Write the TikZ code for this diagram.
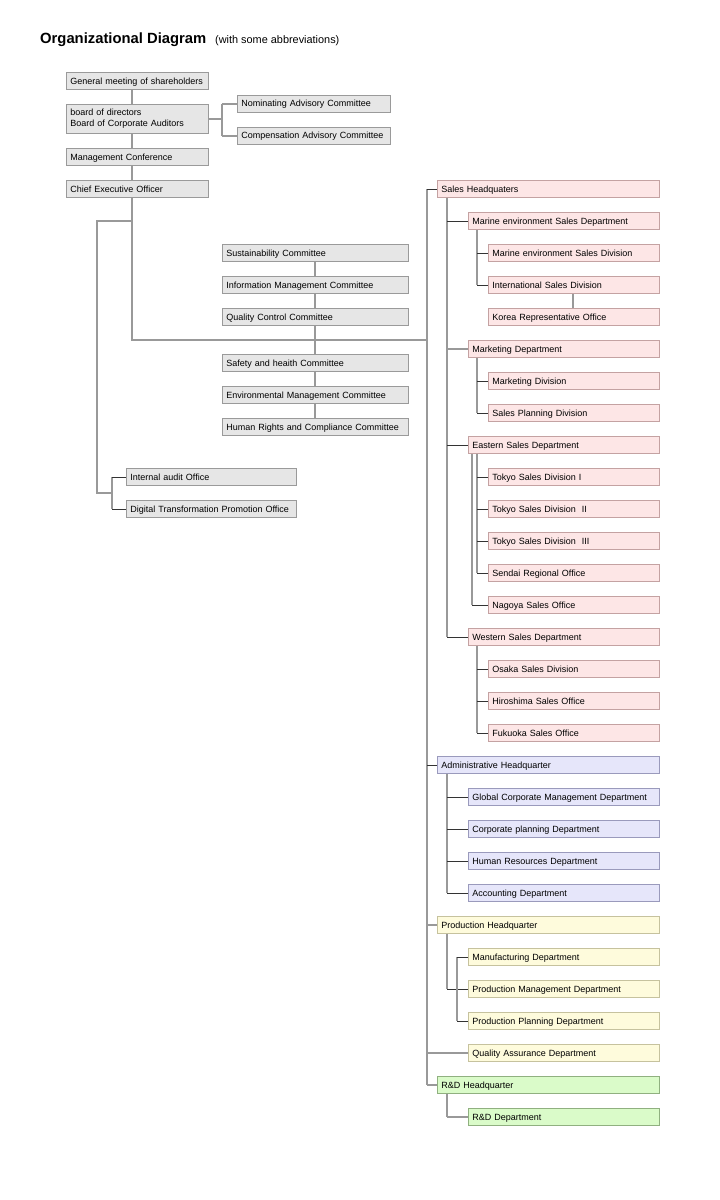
\documentclass[tikz,border=0pt]{standalone}
\usepackage{fontspec}
\setmainfont{Liberation Sans}
\usetikzlibrary{shadows}
\definecolor{gfill}{HTML}{E6E6E6}\definecolor{gdraw}{HTML}{9A9A9A}
\definecolor{pfill}{HTML}{FDE6E6}\definecolor{pdraw}{HTML}{C4A2A2}
\definecolor{lfill}{HTML}{E6E6FA}\definecolor{ldraw}{HTML}{9A9ABC}
\definecolor{yfill}{HTML}{FEFBDC}\definecolor{ydraw}{HTML}{C6C29E}
\definecolor{rfill}{HTML}{DAFBC9}\definecolor{rdraw}{HTML}{90B080}
\definecolor{lgray}{HTML}{999999}\definecolor{sdark}{HTML}{333333}
\begin{document}
\begin{tikzpicture}[x=1pt,y=-1pt,font=\fontsize{9}{11}\selectfont]
\tikzset{
  base0/.style={rectangle,anchor=west,inner xsep=4pt,inner ysep=0pt,minimum height=17pt,align=left,line width=0.8pt},
  base/.style={base0,text height=7pt,text depth=1pt},
  wd/.style={text width=#1pt-8pt},
  gsh/.style={fill=gfill,draw=gdraw,drop shadow={shadow xshift=0.8pt,shadow yshift=-0.8pt,fill=gdraw!80!black,opacity=0.6}},
  gbox/.style={base,gsh},
  pbox/.style={base,fill=pfill,draw=pdraw,drop shadow={shadow xshift=0.8pt,shadow yshift=-0.8pt,fill=pdraw!80!black,opacity=0.6}},
  lbox/.style={base,fill=lfill,draw=ldraw,drop shadow={shadow xshift=0.8pt,shadow yshift=-0.8pt,fill=ldraw!80!black,opacity=0.6}},
  ybox/.style={base,fill=yfill,draw=ydraw,drop shadow={shadow xshift=0.8pt,shadow yshift=-0.8pt,fill=ydraw!80!black,opacity=0.6}},
  rbox/.style={base,fill=rfill,draw=rdraw,drop shadow={shadow xshift=0.8pt,shadow yshift=-0.8pt,fill=rdraw!80!black,opacity=0.6}},
  gline/.style={draw=lgray,line width=2pt},
  sline/.style={draw=sdark,line width=0.9pt}
}
\useasboundingbox[fill=white] (0,0) rectangle (720,1200);
% title
\node[anchor=base west,inner sep=0pt,font=\bfseries\fontsize{14.8}{16}\selectfont] (title) at (40,43) {Organizational Diagram};
\node[anchor=base west,inner sep=0pt,font=\fontsize{10.9}{12}\selectfont] (sub) at (215,43) {(with some abbreviations)};
% x helpers
\coordinate (x97) at (97,0); \coordinate (x112) at (112,0); \coordinate (x132) at (132,0);
\coordinate (x222) at (222,0); \coordinate (x315) at (315,0); \coordinate (x427) at (427,0);
\coordinate (x447) at (447,0); \coordinate (x457) at (457,0); \coordinate (x472) at (472,0);
\coordinate (x477) at (477,0); \coordinate (x573) at (573,0);
\coordinate (yL) at (0,221); \coordinate (yD) at (0,493); \coordinate (yH) at (0,340);
% gray boxes
\node[gbox,wd=142] (gm) at (66,81) {General meeting of shareholders};
\node[base0,gsh,wd=142,minimum height=29pt] (bd) at (66,118.5) {board of directors\\Board of Corporate Auditors};
\node[gbox,wd=153] (nom) at (237,103.5) {Nominating Advisory Committee};
\node[gbox,wd=153] (comp) at (237,135.5) {Compensation Advisory Committee};
\node[gbox,wd=142] (mc) at (66,157) {Management Conference};
\node[gbox,wd=142] (ceo) at (66,189) {Chief Executive Officer};
\node[gbox,wd=186] (sus) at (222,253) {Sustainability Committee};
\node[gbox,wd=186] (info) at (222,285) {Information Management Committee};
\node[gbox,wd=186] (qc) at (222,317) {Quality Control Committee};
\node[gbox,wd=186] (saf) at (222,363) {Safety and heaith Committee};
\node[gbox,wd=186] (env) at (222,395) {Environmental Management Committee};
\node[gbox,wd=186] (hrc) at (222,427) {Human Rights and Compliance Committee};
\node[gbox,wd=170] (ia) at (126,477) {Internal audit Office};
\node[gbox,wd=170] (dx) at (126,509) {Digital Transformation Promotion Office};
% sales
\node[pbox,wd=222] (shq) at (437,189) {Sales Headquaters};
\node[pbox,wd=191] (mdept) at (468,221) {Marine environment Sales Department};
\node[pbox,wd=171] (mdiv) at (488,253) {Marine environment Sales Division};
\node[pbox,wd=171] (intl) at (488,285) {International Sales Division};
\node[pbox,wd=171] (korea) at (488,317) {Korea Representative Office};
\node[pbox,wd=191] (mkt) at (468,349) {Marketing Department};
\node[pbox,wd=171] (mktdiv) at (488,381) {Marketing Division};
\node[pbox,wd=171] (spd) at (488,413) {Sales Planning Division};
\node[pbox,wd=191] (east) at (468,445) {Eastern Sales Department};
\node[pbox,wd=171] (t1) at (488,477) {Tokyo Sales Division I};
\node[pbox,wd=171] (t2) at (488,509) {Tokyo Sales Division\ \ II};
\node[pbox,wd=171] (t3) at (488,541) {Tokyo Sales Division\ \ III};
\node[pbox,wd=171] (sendai) at (488,573) {Sendai Regional Office};
\node[pbox,wd=171] (nagoya) at (488,605) {Nagoya Sales Office};
\node[pbox,wd=191] (west) at (468,637) {Western Sales Department};
\node[pbox,wd=171] (osaka) at (488,669) {Osaka Sales Division};
\node[pbox,wd=171] (hiro) at (488,701) {Hiroshima Sales Office};
\node[pbox,wd=171] (fuku) at (488,733) {Fukuoka Sales Office};
% administrative
\node[lbox,wd=222] (ahq) at (437,765) {Administrative Headquarter};
\node[lbox,wd=191] (gcm) at (468,797) {Global Corporate Management Department};
\node[lbox,wd=191] (cp) at (468,829) {Corporate planning Department};
\node[lbox,wd=191] (hrd) at (468,861) {Human Resources Department};
\node[lbox,wd=191] (acc) at (468,893) {Accounting Department};
% production
\node[ybox,wd=222] (phq) at (437,925) {Production Headquarter};
\node[ybox,wd=191] (mfg) at (468,957) {Manufacturing Department};
\node[ybox,wd=191] (pmd) at (468,989) {Production Management Department};
\node[ybox,wd=191] (ppd) at (468,1021) {Production Planning Department};
\node[ybox,wd=191] (qa) at (468,1053) {Quality Assurance Department};
% R&D
\node[rbox,wd=222] (rhq) at (437,1085) {R\&D Headquarter};
\node[rbox,wd=191] (rdd) at (468,1117) {R\&D Department};
% ---- connectors: top-left
\draw[gline] (gm.south -| x132) -- (bd.north -| x132);
\draw[gline] (bd.south -| x132) -- (mc.north -| x132);
\draw[gline] (mc.south -| x132) -- (ceo.north -| x132);
\draw[gline] (bd.east) -- (bd.east -| x222);
\draw[gline] (nom.west -| x222) -- (comp.west -| x222);
\draw[gline] (nom.west -| x222) -- (nom.west);
\draw[gline] (comp.west -| x222) -- (comp.west);
\draw[gline] (ceo.south -| x132) -- (x132 |- yH) -- (x427 |- yH);
\draw[gline] (x132 |- yL) -- (x97 |- yL) -- (x97 |- yD) -- (x112 |- yD);
\draw[gline] (ia.west -| x112) -- (dx.west -| x112);
\draw[sline] (ia.west -| x112) -- (ia.west);
\draw[sline] (dx.west -| x112) -- (dx.west);
% committees
\draw[gline] (sus.south -| x315) -- (info.north -| x315);
\draw[gline] (info.south -| x315) -- (qc.north -| x315);
\draw[gline] (qc.south -| x315) -- (saf.north -| x315);
\draw[gline] (saf.south -| x315) -- (env.north -| x315);
\draw[gline] (env.south -| x315) -- (hrc.north -| x315);
% trunk
\draw[gline] (shq.west -| x427) -- (rhq.west -| x427);
\draw[sline] (shq.west -| x427) -- (shq.west);
\draw[sline] (ahq.west -| x427) -- (ahq.west);
\draw[gline] (phq.west -| x427) -- (phq.west);
\draw[gline] (qa.west -| x427) -- (qa.west);
\draw[gline] (rhq.west -| x427) -- (rhq.west);
% sales
\draw[gline] (shq.south -| x447) -- (west.west -| x447);
\draw[sline] (mdept.west -| x447) -- (mdept.west);
\draw[gline] (mkt.west -| x447) -- (mkt.west);
\draw[sline] (east.west -| x447) -- (east.west);
\draw[sline] (west.west -| x447) -- (west.west);
\draw[gline] (mdept.south -| x477) -- (intl.west -| x477);
\draw[sline] (mdiv.west -| x477) -- (mdiv.west);
\draw[sline] (intl.west -| x477) -- (intl.west);
\draw[gline] (intl.south -| x573) -- (korea.north -| x573);
\draw[gline] (mkt.south -| x477) -- (spd.west -| x477);
\draw[sline] (mktdiv.west -| x477) -- (mktdiv.west);
\draw[sline] (spd.west -| x477) -- (spd.west);
\draw[gline] (east.south -| x477) -- (sendai.west -| x477);
\draw[gline] (east.south -| x472) -- (nagoya.west -| x472);
\draw[sline] (t1.west -| x477) -- (t1.west);
\draw[sline] (t2.west -| x477) -- (t2.west);
\draw[sline] (t3.west -| x477) -- (t3.west);
\draw[sline] (sendai.west -| x477) -- (sendai.west);
\draw[sline] (nagoya.west -| x472) -- (nagoya.west);
\draw[gline] (west.south -| x477) -- (fuku.west -| x477);
\draw[sline] (osaka.west -| x477) -- (osaka.west);
\draw[sline] (hiro.west -| x477) -- (hiro.west);
\draw[sline] (fuku.west -| x477) -- (fuku.west);
% administrative
\draw[gline] (ahq.south -| x447) -- (acc.west -| x447);
\draw[sline] (gcm.west -| x447) -- (gcm.west);
\draw[sline] (cp.west -| x447) -- (cp.west);
\draw[sline] (hrd.west -| x447) -- (hrd.west);
\draw[sline] (acc.west -| x447) -- (acc.west);
% production
\draw[gline] (phq.south -| x447) -- (pmd.west -| x447);
\draw[sline] (pmd.west -| x447) -- (pmd.west);
\draw[gline] (mfg.west -| x457) -- (ppd.west -| x457);
\draw[sline] (mfg.west -| x457) -- (mfg.west);
\draw[sline] (ppd.west -| x457) -- (ppd.west);
% R&D
\draw[gline] (rhq.south -| x447) -- (rdd.west -| x447);
\draw[gline] (rdd.west -| x447) -- (rdd.west);
\end{tikzpicture}
\end{document}
